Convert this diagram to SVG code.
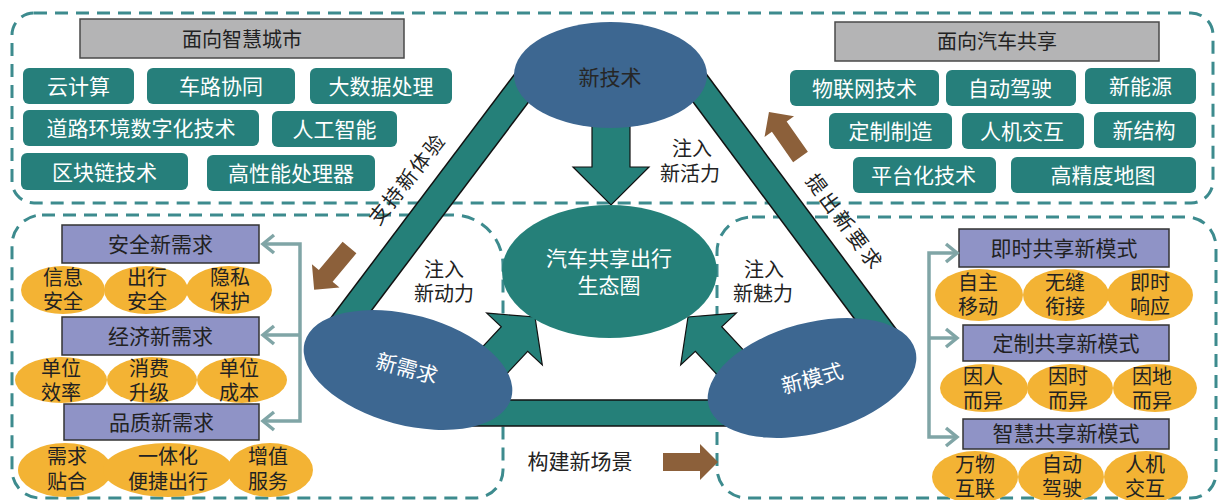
<svg xmlns="http://www.w3.org/2000/svg" width="1219" height="500" viewBox="0 0 1219 500">
<style>
text{font-family:"Liberation Sans","Noto Sans CJK SC",sans-serif;text-anchor:middle}
.dash{fill:none;stroke:#3d8b8e;stroke-width:3;stroke-dasharray:13 8}
.gbox{fill:#b4b4b5;stroke:#4a4a4a;stroke-width:1.5}
.tbox{fill:#267f7b}
.pbox{fill:#8f93c6;stroke:#333;stroke-width:1.5}
.orng{fill:#f3b334}
.wt{fill:#fff;font-size:21px}
.dk{fill:#222;font-size:21px}
.et{fill:#222;font-size:20px}
.lbl{fill:#222;font-size:20px}
.band{fill:#258079}
.edge{stroke:#111;stroke-width:1.5;fill:none}
.blue{fill:#3d6791}
.tarrow{fill:#258079;stroke:#111;stroke-width:1.2}
.brown{fill:#8c603a}
.gline{fill:none;stroke:#80a5a6;stroke-width:3.5;stroke-linejoin:miter}
</style>
<defs>
<path id="barrow" d="M0,-9 H37 V-18 L55,0 L37,18 V9 H0 Z"/>
</defs>
<rect width="1219" height="500" fill="#fff"/>

<g id="regions">
<rect class="dash" x="12" y="13" width="1201" height="190" rx="22"/>
<path class="dash" d="M42,215 H453 A50,50 0 0 1 503,265 V470 A28,28 0 0 1 475,498 H40 A28,28 0 0 1 12,470 V245 A30,30 0 0 1 42,215 Z"/>
<path class="dash" d="M752,217 H1186 A30,30 0 0 1 1216,247 V473 A25,25 0 0 1 1191,498 H747 A30,30 0 0 1 717,468 V252 A35,35 0 0 1 752,217 Z"/>
</g>

<g id="smart-city">
<rect class="gbox" x="80" y="19" width="324" height="39"/>
<text class="dk" x="242" y="47" style="font-size:20px">面向智慧城市</text>
<rect class="tbox" x="23" y="68" width="111" height="36" rx="6"/><text class="wt" x="78.5" y="94">云计算</text>
<rect class="tbox" x="147" y="68" width="148" height="36" rx="6"/><text class="wt" x="221" y="94">车路协同</text>
<rect class="tbox" x="310" y="68" width="142" height="36" rx="6"/><text class="wt" x="381" y="94">大数据处理</text>
<rect class="tbox" x="23" y="110" width="236" height="36" rx="6"/><text class="wt" x="141" y="136">道路环境数字化技术</text>
<rect class="tbox" x="272" y="111" width="125" height="36" rx="6"/><text class="wt" x="334.5" y="137">人工智能</text>
<rect class="tbox" x="21" y="153" width="167" height="37" rx="6"/><text class="wt" x="104.5" y="179.5">区块链技术</text>
<rect class="tbox" x="207" y="155" width="168" height="36" rx="6"/><text class="wt" x="291" y="181">高性能处理器</text>
</g>

<g id="car-sharing">
<rect class="gbox" x="835" y="22" width="324" height="39"/>
<text class="dk" x="997" y="49" style="font-size:20px">面向汽车共享</text>
<rect class="tbox" x="790" y="70" width="149" height="36" rx="6"/><text class="wt" x="864.5" y="96">物联网技术</text>
<rect class="tbox" x="946" y="70" width="130" height="36" rx="6"/><text class="wt" x="1010" y="96">自动驾驶</text>
<rect class="tbox" x="1085" y="68" width="111" height="36" rx="6"/><text class="wt" x="1140.5" y="94">新能源</text>
<rect class="tbox" x="829" y="113" width="123" height="36" rx="6"/><text class="wt" x="890.5" y="139">定制制造</text>
<rect class="tbox" x="962" y="113" width="122" height="36" rx="6"/><text class="wt" x="1022" y="139">人机交互</text>
<rect class="tbox" x="1094" y="112" width="102" height="36" rx="6"/><text class="wt" x="1144" y="138">新结构</text>
<rect class="tbox" x="853" y="157" width="143" height="36" rx="6"/><text class="wt" x="923.5" y="183">平台化技术</text>
<rect class="tbox" x="1011" y="157" width="185" height="36" rx="6"/><text class="wt" x="1103" y="183">高精度地图</text>
</g>

<g id="demand-group">
<rect class="pbox" x="62" y="225" width="197" height="38"/><text class="dk" x="160.5" y="252">安全新需求</text>
<ellipse class="orng" cx="63" cy="290" rx="42" ry="24"/>
<ellipse class="orng" cx="146" cy="290" rx="42" ry="24"/>
<ellipse class="orng" cx="229" cy="290" rx="43" ry="24"/>
<text class="et"><tspan x="63" y="285">信息</tspan><tspan x="63" y="309">安全</tspan></text>
<text class="et"><tspan x="147" y="285">出行</tspan><tspan x="147" y="309">安全</tspan></text>
<text class="et"><tspan x="230" y="285">隐私</tspan><tspan x="230" y="309">保护</tspan></text>
<rect class="pbox" x="62" y="317" width="197" height="38"/><text class="dk" x="160.5" y="344">经济新需求</text>
<ellipse class="orng" cx="61" cy="380" rx="46" ry="23"/>
<ellipse class="orng" cx="152" cy="380" rx="45" ry="23"/>
<ellipse class="orng" cx="242" cy="380" rx="45" ry="23"/>
<text class="et"><tspan x="61" y="376">单位</tspan><tspan x="61" y="400">效率</tspan></text>
<text class="et"><tspan x="149" y="376">消费</tspan><tspan x="149" y="400">升级</tspan></text>
<text class="et"><tspan x="239" y="376">单位</tspan><tspan x="239" y="400">成本</tspan></text>
<rect class="pbox" x="64" y="404" width="195" height="36"/><text class="dk" x="161.5" y="430">品质新需求</text>
<ellipse class="orng" cx="65" cy="470" rx="47" ry="27"/>
<ellipse class="orng" cx="168" cy="470" rx="65" ry="27"/>
<ellipse class="orng" cx="270" cy="470" rx="43" ry="27"/>
<text class="et"><tspan x="67" y="464">需求</tspan><tspan x="67" y="489">贴合</tspan></text>
<text class="et"><tspan x="168" y="464">一体化</tspan><tspan x="168" y="489">便捷出行</tspan></text>
<text class="et"><tspan x="268" y="464">增值</tspan><tspan x="268" y="489">服务</tspan></text>
</g>

<g id="mode-group">
<rect class="pbox" x="959" y="229" width="210" height="38"/><text class="dk" x="1064" y="256">即时共享新模式</text>
<ellipse class="orng" cx="979" cy="295" rx="44" ry="26"/>
<ellipse class="orng" cx="1066" cy="295" rx="43" ry="26"/>
<ellipse class="orng" cx="1150" cy="295" rx="43" ry="26"/>
<text class="et"><tspan x="978" y="290">自主</tspan><tspan x="978" y="314">移动</tspan></text>
<text class="et"><tspan x="1065" y="290">无缝</tspan><tspan x="1065" y="314">衔接</tspan></text>
<text class="et"><tspan x="1150" y="290">即时</tspan><tspan x="1150" y="314">响应</tspan></text>
<rect class="pbox" x="963" y="325" width="206" height="36"/><text class="dk" x="1066" y="351">定制共享新模式</text>
<ellipse class="orng" cx="984" cy="388" rx="44" ry="24"/>
<ellipse class="orng" cx="1070" cy="388" rx="43" ry="24"/>
<ellipse class="orng" cx="1155" cy="388" rx="42" ry="24"/>
<text class="et"><tspan x="983" y="384">因人</tspan><tspan x="983" y="408">而异</tspan></text>
<text class="et"><tspan x="1068" y="384">因时</tspan><tspan x="1068" y="408">而异</tspan></text>
<text class="et"><tspan x="1152" y="384">因地</tspan><tspan x="1152" y="408">而异</tspan></text>
<rect class="pbox" x="963" y="419" width="206" height="30"/><text class="dk" x="1066" y="441">智慧共享新模式</text>
<ellipse class="orng" cx="975" cy="477" rx="43" ry="26"/>
<ellipse class="orng" cx="1061" cy="477" rx="43" ry="26"/>
<ellipse class="orng" cx="1146" cy="477" rx="42" ry="26"/>
<text class="et"><tspan x="975" y="472">万物</tspan><tspan x="975" y="496">互联</tspan></text>
<text class="et"><tspan x="1062" y="472">自动</tspan><tspan x="1062" y="496">驾驶</tspan></text>
<text class="et"><tspan x="1145" y="472">人机</tspan><tspan x="1145" y="496">交互</tspan></text>
</g>

<g id="connectors">
<path class="gline" d="M263,244 H300 V421 H263 M300,335 H263"/>
<path class="gline" d="M274,235 L263,244 L274,253 M274,326 L263,335 L274,344 M274,412 L263,421 L274,430"/>
<path class="gline" d="M957,253 H929 V437 H957 M929,338 H957"/>
<path class="gline" d="M946,244 L957,253 L946,262 M946,329 L957,338 L946,347 M946,428 L957,437 L946,446"/>

<polygon class="band" points="525.3,60 560.3,60 345.4,345 310.4,345"/>
<line class="edge" x1="525.3" y1="60" x2="310.4" y2="345"/>
<line class="edge" x1="560.3" y1="60" x2="345.4" y2="345"/>
<polygon class="band" points="661.8,60 695.8,60 908,345 874,345"/>
<line class="edge" x1="661.8" y1="60" x2="874" y2="345"/>
<line class="edge" x1="695.8" y1="60" x2="908" y2="345"/>
<rect class="band" x="460" y="400" width="300" height="26"/>
<line class="edge" x1="460" y1="400" x2="760" y2="400"/>
<line class="edge" x1="460" y1="426" x2="760" y2="426"/>

<polygon class="tarrow" points="592,115 630,115 630,167 649,167 611,205 573,167 592,167"/>
<polygon class="tarrow" points="470.6,359.6 501.3,326.7 486.7,313.1 535,317 542.3,364.9 527.7,351.3 497,384.2"/>
<polygon class="tarrow" points="752.4,359.6 721.7,326.7 736.3,313.1 688,317 680.7,364.9 695.3,351.3 726,384.2"/>

<use href="#barrow" class="brown" transform="translate(663,462)"/>
<use href="#barrow" class="brown" transform="translate(800.5,157) rotate(-125)"/>
<use href="#barrow" class="brown" transform="translate(349.5,247.5) rotate(130)"/>
</g>

<g id="ecosystem">
<ellipse class="band" cx="609.5" cy="271.5" rx="107.5" ry="66.5"/>
<text class="wt"><tspan x="609" y="266">汽车共享出行</tspan><tspan x="609" y="293">生态圈</tspan></text>
</g>

<g id="new-tech">
<ellipse class="blue" cx="610.5" cy="75" rx="96.5" ry="53"/>
<text class="dk" x="610" y="85" style="fill:#262626">新技术</text>
</g>

<g id="new-demand">
<ellipse class="blue" cx="408" cy="370" rx="107" ry="55" transform="rotate(15 408 370)"/>
<text class="wt" transform="translate(407,368) rotate(15)" x="0" y="8">新需求</text>
</g>

<g id="new-mode">
<ellipse class="blue" cx="812" cy="378" rx="107" ry="55" transform="rotate(-15 812 378)"/>
<text class="wt" transform="translate(812,378) rotate(-15)" x="0" y="8">新模式</text>
</g>

<g id="labels">
<text class="lbl"><tspan x="692" y="156">注入</tspan><tspan x="690" y="181">新活力</tspan></text>
<text class="lbl"><tspan x="444" y="277">注入</tspan><tspan x="444" y="301">新动力</tspan></text>
<text class="lbl"><tspan x="764" y="277">注入</tspan><tspan x="763" y="301">新魅力</tspan></text>
<text class="dk" x="580" y="469">构建新场景</text>
<text class="lbl" transform="translate(407.5,179) rotate(-51.5)" x="0" y="7" style="letter-spacing:2px">支持新体验</text>
<text class="lbl" transform="translate(844.5,222.5) rotate(53.5)" x="0" y="7" style="letter-spacing:3px">提出新要求</text>
</g>
</svg>
